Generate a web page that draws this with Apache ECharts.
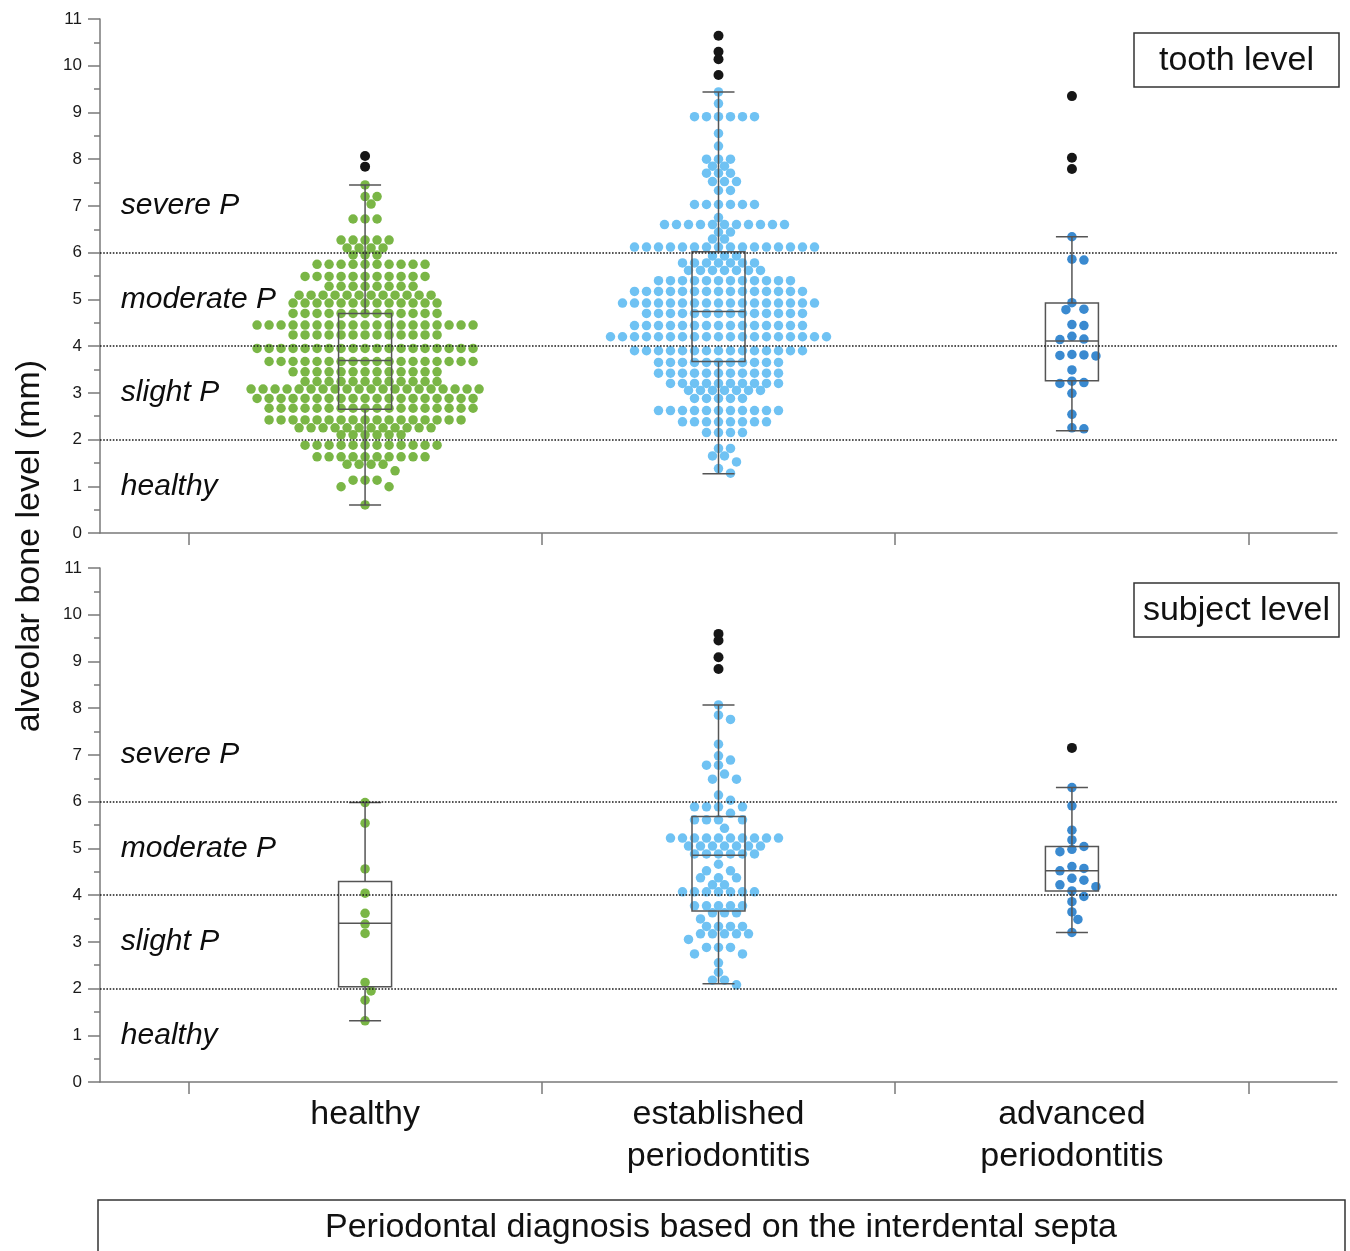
<!DOCTYPE html>
<html>
<head>
<meta charset="utf-8">
<script src="https://cdn.jsdelivr.net/npm/echarts@6/dist/echarts.min.js"></script>
<style>html,body{margin:0;padding:0;background:#fff}#c{width:1350px;height:1251px}</style>
</head>
<body>
<div id="c"></div>
<script>
// ---------- data ----------
const groupNames = ['healthy', 'established\nperiodontitis', 'advanced\nperiodontitis'];
const panelNames = ['tooth level', 'subject level'];
const zoneNames = ['healthy', 'slight P', 'moderate P', 'severe P'];
const zoneMid = [1, 3, 5, 7];
const zoneLimits = [2, 4, 6];
const yTicks = [0, 11, 1];

// rows: [alveolar bone level (mm), number of observations at that level]
const healthyToothRows = [[7.45,1],[7.20,2],[7.04,1],[6.72,3],[6.27,5],[6.10,4],[5.95,3],[5.75,10],[5.49,11],[5.28,8],[5.09,12],[4.92,13],[4.70,13],[4.45,19],[4.24,13],[3.95,19],[3.67,18],[3.45,13],[3.24,12],[3.08,20],[2.88,19],[2.67,18],[2.42,17],[2.25,12],[2.10,6],[1.88,12],[1.63,10],[1.47,4],[1.33,1],[1.13,3],[0.99,2],[0.60,1]];
const healthyToothOut = [8.07, 7.84];
const healthyToothBox = [0.60, 2.65, 3.69, 4.70, 7.45];

const establishedToothRows = [[9.44,1],[9.19,1],[8.91,6],[8.55,1],[8.28,1],[8.00,3],[7.85,2],[7.70,3],[7.52,3],[7.33,2],[7.03,6],[6.75,1],[6.60,11],[6.44,2],[6.29,2],[6.12,16],[5.93,3],[5.78,7],[5.62,7],[5.40,12],[5.17,15],[4.92,17],[4.70,14],[4.44,15],[4.20,19],[3.90,15],[3.65,11],[3.42,11],[3.20,10],[3.05,7],[2.88,5],[2.62,11],[2.38,8],[2.15,4],[1.81,2],[1.65,2],[1.52,1],[1.38,1],[1.28,1]];
const establishedToothOut = [10.64, 10.30, 10.14, 9.80];
const establishedToothBox = [1.27, 3.67, 4.74, 6.02, 9.44];

const advancedToothVals = [6.34,5.86,5.84,4.93,4.79,4.78,4.46,4.44,4.21,4.15,4.14,3.82,3.81,3.80,3.79,3.49,3.25,3.22,3.20,2.99,2.54,2.25,2.23];
const advancedToothOut = [9.35, 8.03, 7.79];
const advancedToothBox = [2.19, 3.26, 4.11, 4.92, 6.34];

const healthySubjVals = [5.98,5.54,4.56,4.04,3.61,3.38,3.18,2.13,1.95,1.75,1.31];
const healthySubjOut = [];
const healthySubjBox = [1.31, 2.04, 3.40, 4.29, 5.98];

const establishedSubjRows = [[8.07,1],[7.85,1],[7.76,1],[7.23,1],[6.98,1],[6.89,1],[6.78,2],[6.59,1],[6.48,2],[6.14,1],[6.03,1],[5.89,4],[5.75,1],[5.61,4],[5.43,1],[5.22,10],[5.05,7],[4.88,6],[4.66,1],[4.52,2],[4.37,3],[4.22,2],[4.07,7],[3.77,5],[3.62,3],[3.49,1],[3.33,4],[3.17,5],[3.05,1],[2.88,3],[2.74,2],[2.55,1],[2.35,1],[2.18,2],[2.08,1]];
const establishedSubjOut = [9.59, 9.45, 9.09, 8.84];
const establishedSubjBox = [2.10, 3.66, 4.85, 5.68, 8.07];

const advancedSubjVals = [6.30,5.91,5.39,5.18,5.04,4.98,4.93,4.61,4.57,4.52,4.36,4.32,4.22,4.18,4.09,3.97,3.86,3.64,3.48,3.20];
const advancedSubjOut = [7.15];
const advancedSubjBox = [3.20, 4.09, 4.52, 5.04, 6.30];

// ---------- helpers ----------
function expand(rows) {
  const out = [];
  rows.forEach(r => {
    if (Array.isArray(r)) { for (let i = 0; i < r[1]; i++) out.push(r[0]); }
    else out.push(r);
  });
  return out;
}

const colors = ['#7ab646', '#6fc2f3', '#3a8ad0'];
const outColor = '#161616';
const FONT = '"Liberation Sans", Arial, Helvetica, sans-serif';

const panels = [
  { values: [expand(healthyToothRows), expand(establishedToothRows), expand(advancedToothVals)],
    outs: [healthyToothOut, establishedToothOut, advancedToothOut],
    boxes: [healthyToothBox, establishedToothBox, advancedToothBox] },
  { values: [expand(healthySubjVals), expand(establishedSubjRows), expand(advancedSubjVals)],
    outs: [healthySubjOut, establishedSubjOut, advancedSubjOut],
    boxes: [healthySubjBox, establishedSubjBox, advancedSubjBox] }
];

const chart = echarts.init(document.getElementById('c'), null, { renderer: 'canvas' });

const XMIN = 0.25, XMAX = 3.75;
const grids = [
  { left: 100, top: 19, width: 1237, height: 514 },
  { left: 100, top: 568, width: 1237, height: 514 }
];

const xAxes = [0, 1].map(i => ({
  type: 'value', gridIndex: i, min: XMIN, max: XMAX,
  axisLine: { show: true, onZero: false, lineStyle: { color: '#7a7a7a', width: 1.5 } },
  axisTick: { show: true, customValues: [0.5, 1.5, 2.5, 3.5], length: 12, lineStyle: { color: '#7a7a7a', width: 1.5 } },
  axisLabel: { show: i === 1, customValues: [1, 2, 3], formatter: v => groupNames[Math.round(v) - 1],
    fontSize: 34, lineHeight: 42, color: '#111', fontFamily: FONT, margin: 12 },
  splitLine: { show: false }
}));

const yAxes = [0, 1].map(i => ({
  type: 'value', gridIndex: i, min: yTicks[0], max: yTicks[1], interval: yTicks[2],
  axisLine: { show: true, onZero: false, lineStyle: { color: '#7a7a7a', width: 1.5 } },
  axisTick: { show: true, length: 12, lineStyle: { color: '#7a7a7a', width: 1.5 } },
  minorTick: { show: true, splitNumber: 2, length: 6, lineStyle: { color: '#7a7a7a', width: 1.5 } },
  axisLabel: { fontSize: 17, color: '#1a1a1a', fontFamily: FONT, margin: 18 },
  splitLine: { show: false }
}));

function boxRender(params, api) {
  const x = api.value(0);
  const pLow = api.coord([x, api.value(1)]);
  const pQ1 = api.coord([x, api.value(2)]);
  const pMed = api.coord([x, api.value(3)]);
  const pQ3 = api.coord([x, api.value(4)]);
  const pHigh = api.coord([x, api.value(5)]);
  const cx = pMed[0], half = 26.5, cap = 16;
  const st = { stroke: '#555', lineWidth: 1.5, fill: null };
  return { type: 'group', children: [
    { type: 'rect', shape: { x: cx - half, y: pQ3[1], width: 2 * half, height: pQ1[1] - pQ3[1] }, style: st },
    { type: 'line', shape: { x1: cx - half, y1: pMed[1], x2: cx + half, y2: pMed[1] }, style: st },
    { type: 'line', shape: { x1: cx, y1: pQ1[1], x2: cx, y2: pLow[1] }, style: st },
    { type: 'line', shape: { x1: cx, y1: pQ3[1], x2: cx, y2: pHigh[1] }, style: st },
    { type: 'line', shape: { x1: cx - cap, y1: pLow[1], x2: cx + cap, y2: pLow[1] }, style: st },
    { type: 'line', shape: { x1: cx - cap, y1: pHigh[1], x2: cx + cap, y2: pHigh[1] }, style: st }
  ]};
}

const series = [];
panels.forEach((p, gi) => {
  // dotted category limits
  series.push({
    type: 'scatter', xAxisIndex: gi, yAxisIndex: gi, data: [], z: 1, silent: true,
    markLine: { silent: true, symbol: ['none', 'none'], label: { show: false },
      lineStyle: { type: 'dotted', color: '#1a1a1a', width: 1.6, opacity: 1 },
      data: zoneLimits.map(v => ({ yAxis: v })), animation: false }
  });
  // zone labels
  series.push({
    type: 'scatter', xAxisIndex: gi, yAxisIndex: gi, symbolSize: 0, z: 5, silent: true,
    itemStyle: { opacity: 1 },
    data: zoneNames.map((n, k) => ({ name: n, value: [XMIN + 0.059, zoneMid[k]] })),
    label: { show: true, position: 'right', distance: 0, formatter: '{b}', fontSize: 30,
      fontStyle: 'italic', color: '#0d0d0d', fontFamily: FONT }
  });
  p.values.forEach((vals, k) => {
    series.push({ id: 'sw' + gi + '_' + k, type: 'scatter', xAxisIndex: gi, yAxisIndex: gi,
      symbolSize: 9.5, itemStyle: { color: colors[k], opacity: 1 }, z: 2, data: [] });
    series.push({ type: 'scatter', xAxisIndex: gi, yAxisIndex: gi, symbolSize: 10,
      itemStyle: { color: outColor, opacity: 1 }, z: 2, data: p.outs[k].map(v => [k + 1, v]) });
  });
  series.push({
    type: 'custom', xAxisIndex: gi, yAxisIndex: gi, z: 4, silent: true,
    renderItem: boxRender, encode: { x: 0, y: [1, 2, 3, 4, 5] },
    data: p.boxes.map((b, k) => [k + 1].concat(b))
  });
});

const graphic = [
  { type: 'text', x: 30, y: 546, rotation: Math.PI / 2,
    style: { text: 'alveolar bone level (mm)', font: '34px ' + FONT, textAlign: 'center', textVerticalAlign: 'middle', fill: '#111' } },
  { type: 'rect', shape: { x: 1134, y: 33, width: 205, height: 54 }, style: { fill: '#fff', stroke: '#333', lineWidth: 1.5 }, z: 10 },
  { type: 'text', x: 1236.5, y: 61, z: 11, style: { text: panelNames[0], font: '34px ' + FONT, textAlign: 'center', textVerticalAlign: 'middle', fill: '#111' } },
  { type: 'rect', shape: { x: 1134, y: 583, width: 205, height: 54 }, style: { fill: '#fff', stroke: '#333', lineWidth: 1.5 }, z: 10 },
  { type: 'text', x: 1236.5, y: 611, z: 11, style: { text: panelNames[1], font: '34px ' + FONT, textAlign: 'center', textVerticalAlign: 'middle', fill: '#111' } },
  { type: 'rect', shape: { x: 98, y: 1200, width: 1247, height: 90 }, style: { fill: 'none', stroke: '#333', lineWidth: 1.5 } },
  { type: 'text', x: 721, y: 1228, style: { text: 'Periodontal diagnosis based on the interdental septa', font: '34px ' + FONT, textAlign: 'center', textVerticalAlign: 'middle', fill: '#111' } }
];

chart.setOption({
  animation: false,
  backgroundColor: '#fff',
  textStyle: { fontFamily: FONT },
  grid: grids, xAxis: xAxes, yAxis: yAxes, series: series, graphic: graphic
});

// ---------- beeswarm layout computed from the values through the axes' scales ----------
const STEP = 6, D = 9;
function swarm(vals, center, gi) {
  const placed = [], out = [];
  const cx = chart.convertToPixel({ xAxisIndex: gi }, center);
  vals.forEach(v => {
    const py = chart.convertToPixel({ yAxisIndex: gi }, v);
    let px = cx;
    for (let k = 0; k < 400; k++) {
      const off = k === 0 ? 0 : (k % 2 === 1 ? 1 : -1) * Math.ceil(k / 2) * STEP;
      const tx = cx + off;
      let ok = true;
      for (let j = 0; j < placed.length; j++) {
        const dx = placed[j][0] - tx, dy = placed[j][1] - py;
        if (dx * dx + dy * dy < D * D) { ok = false; break; }
      }
      if (ok) { px = tx; break; }
    }
    placed.push([px, py]);
    out.push([chart.convertFromPixel({ xAxisIndex: gi }, px), v]);
  });
  return out;
}

const upd = [];
panels.forEach((p, gi) => {
  p.values.forEach((vals, k) => {
    upd.push({ id: 'sw' + gi + '_' + k, data: swarm(vals, k + 1, gi) });
  });
});
chart.setOption({ series: upd });
</script>
</body>
</html>
